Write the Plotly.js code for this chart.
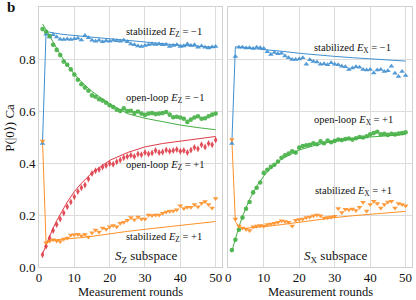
<!DOCTYPE html>
<html><head><meta charset="utf-8">
<script src="https://cdn.plot.ly/plotly-3.0.1.min.js"></script>
<style>html,body{margin:0;padding:0;background:#fff}#chart{width:416px;height:300px}</style>
</head><body><div id="chart"></div>
<script>
// Measurement rounds (data points)
const rounds = [1,2,3,4,5,6,7,8,9,10,11,12,13,14,15,16,17,18,19,20,21,22,23,24,25,26,27,28,29,30,31,32,33,34,35,36,37,38,39,40,41,42,43,44,45,46,47,48,49,50];
// Rounds at which simulation curves are sampled
const simRounds = [1,2,3,4,5,6,8,10,12,15,20,25,30,35,40,45,50];

// ---- S_Z subspace (left panel) ----
const stabZm = [0.475,0.895,0.885,0.893,0.885,0.876,0.875,0.877,0.875,0.878,0.88,0.873,0.89,0.882,0.872,0.868,0.872,0.866,0.87,0.868,0.872,0.870,0.868,0.872,0.866,0.858,0.855,0.85,0.848,0.852,0.855,0.858,0.856,0.858,0.855,0.856,0.848,0.852,0.855,0.848,0.85,0.858,0.852,0.855,0.845,0.85,0.845,0.842,0.846,0.848];
const openZm = [0.915,0.905,0.888,0.855,0.835,0.815,0.79,0.778,0.76,0.74,0.72,0.703,0.69,0.678,0.66,0.655,0.645,0.64,0.632,0.622,0.615,0.605,0.6,0.61,0.6,0.601,0.592,0.598,0.59,0.585,0.59,0.592,0.588,0.59,0.592,0.596,0.586,0.576,0.578,0.575,0.57,0.558,0.567,0.575,0.58,0.57,0.572,0.58,0.586,0.59];
const openZp = [0.047,0.08,0.112,0.14,0.163,0.185,0.208,0.232,0.25,0.27,0.29,0.305,0.315,0.338,0.36,0.37,0.375,0.385,0.39,0.398,0.395,0.405,0.412,0.42,0.425,0.43,0.425,0.435,0.432,0.44,0.435,0.438,0.448,0.44,0.442,0.45,0.445,0.448,0.452,0.445,0.448,0.44,0.45,0.46,0.455,0.47,0.462,0.475,0.47,0.488];
const stabZp = [0.485,0.093,0.1,0.105,0.1,0.098,0.108,0.112,0.123,0.124,0.126,0.12,0.125,0.115,0.132,0.142,0.135,0.15,0.145,0.155,0.16,0.155,0.168,0.172,0.18,0.19,0.182,0.192,0.185,0.185,0.2,0.198,0.2,0.2,0.207,0.212,0.214,0.215,0.22,0.236,0.225,0.23,0.23,0.24,0.232,0.245,0.252,0.24,0.227,0.263];
const simStabZm = [0.48,0.905,0.903,0.9,0.898,0.896,0.893,0.89,0.887,0.884,0.878,0.872,0.864,0.858,0.853,0.849,0.845];
const simOpenZm = [0.935,0.915,0.89,0.865,0.84,0.818,0.777,0.742,0.712,0.675,0.628,0.59,0.572,0.558,0.546,0.536,0.528];
const simOpenZp = [0.05,0.085,0.12,0.15,0.178,0.203,0.25,0.29,0.322,0.362,0.41,0.44,0.462,0.475,0.485,0.493,0.502];
const simStabZp = [0.485,0.09,0.1,0.105,0.105,0.106,0.108,0.11,0.113,0.118,0.128,0.137,0.145,0.152,0.16,0.167,0.175];

// ---- S_X subspace (right panel) ----
const stabXm = [0.475,0.81,0.845,0.845,0.842,0.843,0.84,0.845,0.843,0.84,0.828,0.817,0.825,0.82,0.822,0.812,0.805,0.798,0.798,0.8,0.805,0.78,0.797,0.79,0.788,0.78,0.782,0.778,0.786,0.78,0.778,0.772,0.77,0.76,0.765,0.77,0.768,0.76,0.758,0.76,0.746,0.758,0.76,0.752,0.755,0.772,0.745,0.733,0.752,0.737];
const openXp = [0.065,0.105,0.143,0.19,0.224,0.25,0.287,0.305,0.325,0.362,0.374,0.385,0.393,0.406,0.42,0.43,0.436,0.445,0.44,0.459,0.465,0.468,0.47,0.476,0.472,0.483,0.476,0.486,0.48,0.485,0.49,0.488,0.492,0.494,0.49,0.495,0.5,0.498,0.503,0.51,0.515,0.52,0.51,0.512,0.508,0.512,0.51,0.513,0.515,0.518];
const stabXp = [0.49,0.185,0.158,0.15,0.145,0.14,0.155,0.158,0.16,0.158,0.163,0.165,0.168,0.172,0.178,0.175,0.172,0.158,0.18,0.183,0.185,0.19,0.192,0.197,0.2,0.197,0.188,0.19,0.192,0.195,0.225,0.21,0.222,0.22,0.223,0.217,0.23,0.249,0.215,0.24,0.253,0.244,0.227,0.24,0.25,0.253,0.227,0.244,0.24,0.236];
const simStabXm = [0.475,0.847,0.846,0.845,0.843,0.842,0.839,0.836,0.834,0.83,0.822,0.815,0.81,0.805,0.8,0.797,0.792];
const simOpenXp = [0.06,0.11,0.155,0.195,0.23,0.26,0.31,0.35,0.38,0.415,0.45,0.47,0.485,0.493,0.5,0.505,0.51];
const simStabXp = [0.49,0.175,0.155,0.15,0.149,0.15,0.152,0.155,0.158,0.163,0.172,0.182,0.19,0.197,0.203,0.208,0.214];

const xTicks = [0,10,20,30,40,50];
const yTicks = [0,0.2,0.4,0.6,0.8,1.0];
const yTickText = ['0.0','0.2','0.4','0.6','0.8','1.0'];

const C = {blue:'#4190d0', green:'#45b045', red:'#de3a46', orange:'#ff9028'};
const serif = 'Liberation Serif, Times New Roman, serif';

function line(x, y, color, xa, ya){
  return {x:x, y:y, type:'scatter', mode:'lines', line:{color:color, width:1}, xaxis:xa, yaxis:ya, hoverinfo:'skip', showlegend:false};
}
function pts(x, y, color, symbol, size, xa, ya){
  return {x:x, y:y, type:'scatter', mode:'markers', marker:{color:color, symbol:symbol, size:size, opacity:0.9, line:{width:0}}, xaxis:xa, yaxis:ya, showlegend:false};
}

const data = [
  line(simRounds, simStabZm, C.blue, 'x', 'y'),
  line(simRounds, simOpenZm, C.green, 'x', 'y'),
  line(simRounds, simOpenZp, C.red, 'x', 'y'),
  line(simRounds, simStabZp, C.orange, 'x', 'y'),
  pts(rounds, stabZm, C.blue, 'triangle-up', 5, 'x', 'y'),
  pts(rounds, openZm, C.green, 'circle', 4.6, 'x', 'y'),
  pts(rounds, openZp, C.red, 'diamond-tall', 5, 'x', 'y'),
  pts(rounds, stabZp, C.orange, 'triangle-down', 5, 'x', 'y'),
  line(simRounds, simStabXm, C.blue, 'x2', 'y2'),
  line(simRounds, simOpenXp, C.green, 'x2', 'y2'),
  line(simRounds, simStabXp, C.orange, 'x2', 'y2'),
  pts(rounds, stabXm, C.blue, 'triangle-up', 5, 'x2', 'y2'),
  pts(rounds, openXp, C.green, 'circle', 4.6, 'x2', 'y2'),
  pts(rounds, stabXp, C.orange, 'triangle-down', 5, 'x2', 'y2')
];

const axCommon = {
  showgrid:true, gridcolor:'#dcdcdc', gridwidth:1,
  showline:true, linecolor:'#d0d0d0', linewidth:1, mirror:true,
  zeroline:false, ticks:'', tickfont:{family:serif, size:13, color:'#111'}
};

const ann = [];
function addAnn(xref, yref, x, y, text, size){
  ann.push({xref:xref, yref:yref, x:x, y:y, text:text, showarrow:false, xanchor:'left', yanchor:'middle', font:{family:serif, size:size, color:'#111'}});
}
addAnn('x','y',24,0.902,'stabilized <i>E</i><sub>Z</sub> = \u22121',10.5);
addAnn('x','y',24,0.647,'open-loop <i>E</i><sub>Z</sub> = \u22121',10.5);
addAnn('x','y',24,0.39,'open-loop <i>E</i><sub>Z</sub> = +1',10.5);
addAnn('x','y',24,0.113,'stabilized <i>E</i><sub>Z</sub> = +1',10.5);
addAnn('x','y',20.9,0.041,'<i>S</i><sub>Z</sub> subspace',13);
addAnn('x2','y2',23.7,0.842,'stabilized <i>E</i><sub>X</sub> = \u22121',10.5);
addAnn('x2','y2',23.7,0.563,'open-loop <i>E</i><sub>X</sub> = +1',10.5);
addAnn('x2','y2',24,0.291,'stabilized <i>E</i><sub>X</sub> = +1',10.5);
addAnn('x2','y2',20.9,0.041,'<i>S</i><sub>X</sub> subspace',13);
// axis titles
ann.push({xref:'paper', yref:'paper', x:-0.078, y:0.535, text:'P(|0\u27e9) Ca', textangle:-90, showarrow:false, xanchor:'center', yanchor:'middle', font:{family:serif, size:13, color:'#111'}});
ann.push({xref:'x domain', yref:'paper', x:0.5, y:-0.096, text:'Measurement rounds', showarrow:false, xanchor:'center', yanchor:'middle', font:{family:serif, size:12.5, color:'#111'}});
ann.push({xref:'x2 domain', yref:'paper', x:0.5, y:-0.096, text:'Measurement rounds', showarrow:false, xanchor:'center', yanchor:'middle', font:{family:serif, size:12.5, color:'#111'}});
ann.push({xref:'paper', yref:'paper', x:-0.09, y:1.0, text:'<b>b</b>', showarrow:false, xanchor:'left', yanchor:'middle', font:{family:serif, size:15, color:'#111'}});

const layout = {
  width:416, height:300,
  margin:{l:39, r:4, t:7, b:33},
  paper_bgcolor:'#fff', plot_bgcolor:'#fff',
  showlegend:false,
  xaxis: Object.assign({}, axCommon, {domain:[0,0.4906], range:[0,51.8], tickvals:xTicks, ticklabelstandoff:-2}),
  xaxis2: Object.assign({}, axCommon, {domain:[0.5075,1], range:[0,51.8], tickvals:xTicks, anchor:'y2', ticklabelstandoff:-2}),
  yaxis: Object.assign({}, axCommon, {range:[0,1], tickvals:yTicks, ticktext:yTickText}),
  yaxis2: Object.assign({}, axCommon, {range:[0,1], tickvals:yTicks, showticklabels:false, anchor:'x2', matches:'y'}),
  annotations: ann
};

Plotly.newPlot('chart', data, layout, {displayModeBar:false, staticPlot:true});
</script>
</body></html>
